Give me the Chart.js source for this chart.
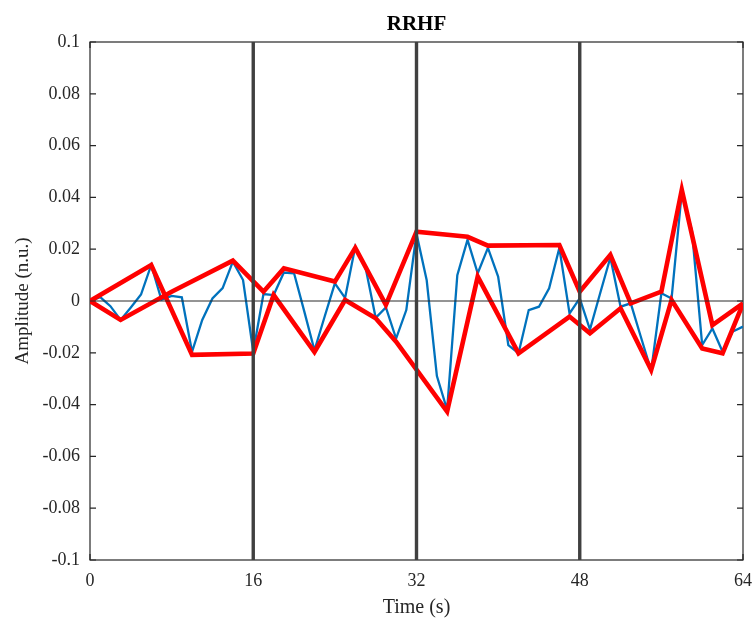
<!DOCTYPE html>
<html>
<head>
<meta charset="utf-8">
<script src="https://cdn.jsdelivr.net/npm/chart.js@4"></script>
<style>
html,body{margin:0;padding:0;background:#fff;}
#wrap{width:753px;height:621px;position:relative;}
</style>
</head>
<body>
<div id="wrap"><canvas id="c"></canvas></div>
<script>
const chartTitle = 'RRHF';
const xAxisTitle = 'Time (s)';
const yAxisTitle = 'Amplitude (n.u.)';

const timeValues = [0,1,2,3,4,5,6,7,8,9,10,11,12,13,14,15,16,17,18,19,20,21,22,23,24,25,26,27,28,29,30,31,32,33,34,35,36,37,38,39,40,41,42,43,44,45,46,47,48,49,50,51,52,53,54,55,56,57,58,59,60,61,62,63,64];
const signalValues = [0,0.0015,-0.002,-0.0073,-0.0025,0.0025,0.0139,0.0005,0.002,0.0014,-0.0196,-0.0073,0.001,0.005,0.0152,0.0081,-0.0196,0.0027,0.0023,0.011,0.0107,-0.004,-0.019,-0.006,0.0068,0.0012,0.021,0.013,-0.0065,-0.0025,-0.0145,-0.0035,0.026,0.008,-0.029,-0.042,0.01,0.0236,0.0107,0.0205,0.0094,-0.017,-0.0202,-0.0035,-0.0022,0.0049,0.0205,-0.0048,0.001,-0.011,0.003,0.0168,-0.0022,-0.0009,-0.014,-0.027,0.003,0.001,0.042,0.027,-0.017,-0.0106,-0.0196,-0.0118,-0.0099];

const envATimes = [0,6,10,16,18,22,25,28,30,35,38,42,47,49,52,55,57,60,62,64];
const envAValues = [0,0.0139,-0.0208,-0.0203,0.0023,-0.0197,0.0004,-0.0067,-0.0157,-0.0427,0.0094,-0.0202,-0.006,-0.0125,-0.0028,-0.0266,0.0004,-0.0183,-0.0202,-0.001];

const envBTimes = [0,3,8,14,17,19,24,26,29,32,37,39,46,48,51,53,56,58,61,64];
const envBValues = [0,-0.0073,0.0036,0.0156,0.0036,0.0126,0.0075,0.0205,-0.0015,0.0268,0.0248,0.0214,0.0216,0.0036,0.0178,-0.0009,0.0036,0.0429,-0.0093,-0.0009];

const markerTimes = [16,32,48];
const baselineTimes = [0,64];
const baselineValues = [0,0];

const xTickValues = [0,16,32,48,64];
const yTickValues = [-0.1,-0.08,-0.06,-0.04,-0.02,0,0.02,0.04,0.06,0.08,0.1];
const yTickLabels = ['-0.1','-0.08','-0.06','-0.04','-0.02','0','0.02','0.04','0.06','0.08','0.1'];

const serif = '"Liberation Serif", "Times New Roman", serif';
const textColor = '#262626';

function pts(xs, ys){ return xs.map((x,i)=>({x:x, y:ys[i]})); }

const datasets = [];
markerTimes.forEach(t => {
  datasets.push({
    data: [{x:t, y:yTickValues[0]}, {x:t, y:yTickValues[yTickValues.length-1]}],
    borderColor: '#404040', borderWidth: 3.4, pointRadius: 0, tension: 0
  });
});
datasets.push({
  data: pts(baselineTimes, baselineValues),
  borderColor: '#2a2a2a', borderWidth: 1, pointRadius: 0, tension: 0
});
datasets.push({
  data: pts(envATimes, envAValues),
  borderColor: '#ff0000', borderWidth: 4.6, pointRadius: 0, tension: 0, borderJoinStyle: 'miter'
});
datasets.push({
  data: pts(envBTimes, envBValues),
  borderColor: '#ff0000', borderWidth: 4.6, pointRadius: 0, tension: 0, borderJoinStyle: 'miter'
});
datasets.push({
  data: pts(timeValues, signalValues),
  borderColor: '#0072BD', borderWidth: 2.3, pointRadius: 0, tension: 0
});

const framePlugin = {
  id: 'frame',
  beforeDatasetsDraw(chart) {
    const {ctx, chartArea: {left, right, top, bottom}, scales: {x, y}} = chart;
    ctx.save();
    ctx.strokeStyle = textColor;
    ctx.lineWidth = 1.2;
    ctx.strokeRect(left, top, right - left, bottom - top);
    const tl = 6;
    ctx.beginPath();
    yTickValues.forEach(v => {
      const py = y.getPixelForValue(v);
      ctx.moveTo(left, py); ctx.lineTo(left + tl, py);
      ctx.moveTo(right, py); ctx.lineTo(right - tl, py);
    });
    xTickValues.forEach(v => {
      const px = x.getPixelForValue(v);
      ctx.moveTo(px, bottom); ctx.lineTo(px, bottom - tl);
      ctx.moveTo(px, top); ctx.lineTo(px, top + tl);
    });
    ctx.stroke();
    ctx.restore();
  },
  afterDraw(chart) {
    const {ctx, chartArea: {left, right}} = chart;
    ctx.save();
    ctx.fillStyle = '#000';
    ctx.font = 'bold 21px ' + serif;
    ctx.textAlign = 'center';
    ctx.textBaseline = 'middle';
    ctx.fillText(chartTitle, (left + right) / 2, 25);
    ctx.restore();
  }
};

new Chart(document.getElementById('c'), {
  type: 'line',
  data: { datasets },
  plugins: [framePlugin],
  options: {
    responsive: true,
    maintainAspectRatio: false,
    animation: false,
    events: [],
    layout: { padding: { top: 42, right: 10, left: 0, bottom: 0 } },
    plugins: { legend: { display: false }, tooltip: { enabled: false }, title: { display: false } },
    scales: {
      x: {
        type: 'linear', min: xTickValues[0], max: xTickValues[xTickValues.length-1],
        afterBuildTicks: s => { s.ticks = xTickValues.map(v => ({value: v})); },
        afterFit: s => { s.height = 61; s.paddingLeft = 0; s.paddingRight = 0; },
        grid: { display: false, drawTicks: false },
        border: { display: false },
        ticks: { color: textColor, font: { family: serif, size: 18 }, padding: 10, maxRotation: 0, autoSkip: false },
        title: { display: true, text: xAxisTitle, color: textColor, font: { family: serif, size: 20 }, padding: { top: 0, bottom: 1 } }
      },
      y: {
        type: 'linear', min: yTickValues[0], max: yTickValues[yTickValues.length-1],
        afterBuildTicks: s => { s.ticks = yTickValues.map(v => ({value: v})); },
        afterFit: s => { s.width = 90; s.paddingTop = 0; s.paddingBottom = 0; },
        grid: { display: false, drawTicks: false },
        border: { display: false },
        ticks: { color: textColor, font: { family: serif, size: 18 }, padding: 10, autoSkip: false,
          callback: (v, i) => yTickLabels[i] },
        title: { display: true, text: yAxisTitle, color: textColor, font: { family: serif, size: 19 }, padding: { top: 12, bottom: 0 } }
      }
    }
  }
});
</script>
</body>
</html>
